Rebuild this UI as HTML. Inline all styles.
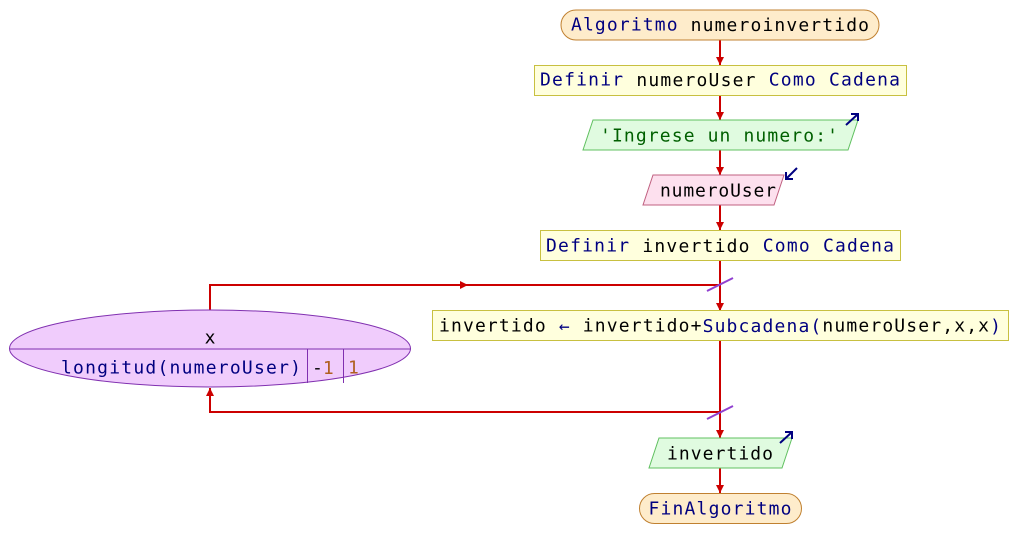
<!DOCTYPE html>
<html><head><meta charset="utf-8"><style>
html,body{margin:0;padding:0;background:#fff}
svg{display:block}
text{font-family:"DejaVu Sans Mono","Liberation Mono",monospace;font-size:18px;dominant-baseline:central}
.k{fill:#000080}.b{fill:#000}.g{fill:#006000}.o{fill:#b06020}
</style></head><body>
<svg width="1018" height="558" viewBox="0 0 1018 558" xmlns="http://www.w3.org/2000/svg">
<defs><marker id="a" markerWidth="10" markerHeight="10" refX="8" refY="4" orient="auto" markerUnits="userSpaceOnUse"><path d="M0,0 L8,4 L0,8 z" fill="#c00"/></marker></defs>
<g stroke="#c00" stroke-width="2" fill="none">
<line x1="720" y1="40" x2="720" y2="65" marker-end="url(#a)"/>
<line x1="720" y1="95" x2="720" y2="120" marker-end="url(#a)"/>
<line x1="720" y1="150" x2="720" y2="175" marker-end="url(#a)"/>
<line x1="720" y1="205" x2="720" y2="230" marker-end="url(#a)"/>
<line x1="720" y1="260" x2="720" y2="311" marker-end="url(#a)"/>
<polyline points="210,311 210,285 720,285"/>
<line x1="210" y1="285" x2="468" y2="285" marker-end="url(#a)"/>
<polyline points="720,341 720,412 210,412 210,388" marker-end="url(#a)"/>
<line x1="720" y1="412" x2="720" y2="438" marker-end="url(#a)"/>
<line x1="720" y1="468" x2="720" y2="493" marker-end="url(#a)"/>
</g>
<g stroke="#9040d0" stroke-width="2">
<line x1="707" y1="291" x2="733" y2="278"/>
<line x1="707" y1="419" x2="733" y2="406"/>
</g>
<rect x="561" y="10" width="318" height="30" rx="15" fill="#feeccb" stroke="#c08030"/>
<text x="720" y="25" text-anchor="middle" textLength="298" class="k">Algoritmo <tspan class="b">numeroinvertido</tspan></text>
<rect x="534.5" y="65.5" width="372" height="30" fill="#ffffdd" stroke="#c8c040"/>
<text x="540" y="80" textLength="360" class="k">Definir <tspan class="b">numeroUser</tspan> Como Cadena</text>
<polygon points="593,120 858,120 848,150 583,150" fill="#e0fbe0" stroke="#60c060"/>
<text x="600" y="136" textLength="238" class="g">'Ingrese un numero:'</text>
<path d="M846,125 L858,114 M851,114 L858,114 L858,121" stroke="#000080" stroke-width="2" fill="none"/>
<polygon points="653,175 784,175 774,205 643,205" fill="#fde0ee" stroke="#c06080"/>
<text x="660" y="191" textLength="116" class="b">numeroUser</text>
<path d="M797,168 L786,179 M786,172 L786,179 L793,179" stroke="#000080" stroke-width="2" fill="none"/>
<rect x="540.5" y="230.5" width="360" height="30" fill="#ffffdd" stroke="#c8c040"/>
<text x="546" y="246" textLength="348" class="k">Definir <tspan class="b">invertido</tspan> Como Cadena</text>
<ellipse cx="210" cy="348.5" rx="200.5" ry="38.5" fill="#f0ccfc" stroke="#8030b0"/>
<line x1="10" y1="349" x2="411" y2="349" stroke="#8030b0"/>
<line x1="307.5" y1="349" x2="307.5" y2="383" stroke="#8030b0"/>
<line x1="343.5" y1="349" x2="343.5" y2="383" stroke="#8030b0"/>
<text x="210" y="338" text-anchor="middle" class="b">x</text>
<text x="61" y="368" textLength="240" class="k">longitud(numeroUser)</text>
<text x="312" y="368" class="b">-<tspan class="o">1</tspan></text>
<text x="348" y="368" class="o">1</text>
<rect x="432.5" y="310.5" width="576" height="30" fill="#ffffdd" stroke="#c8c040"/>
<text x="439" y="326" textLength="562" class="b">invertido <tspan class="k">←</tspan> invertido+<tspan class="k">Subcadena(</tspan>numeroUser,x,x<tspan class="k">)</tspan></text>
<polygon points="659,438 792,438 782,468 649,468" fill="#e0fbe0" stroke="#60c060"/>
<text x="667" y="454" textLength="106" class="b">invertido</text>
<path d="M780,443 L792,432 M785,432 L792,432 L792,439" stroke="#000080" stroke-width="2" fill="none"/>
<rect x="639.5" y="493.5" width="162" height="30" rx="15" fill="#feeccb" stroke="#c08030"/>
<text x="720" y="509" text-anchor="middle" textLength="143" class="k">FinAlgoritmo</text>
</svg>
</body></html>
